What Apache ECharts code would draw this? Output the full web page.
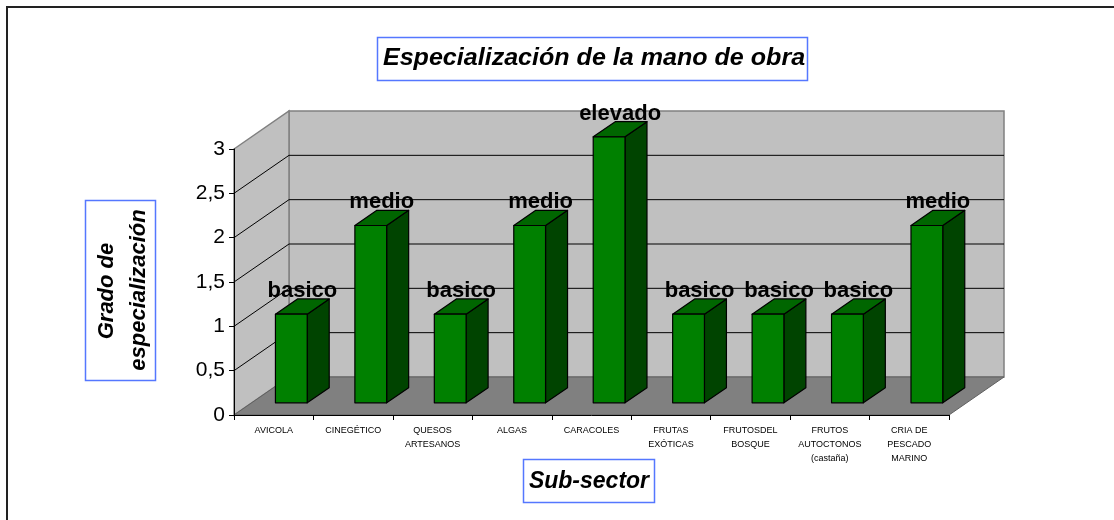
<!DOCTYPE html>
<html>
<head>
<meta charset="utf-8">
<script src="https://cdn.jsdelivr.net/npm/echarts@6/dist/echarts.min.js"></script>
<style>
  html, body { margin: 0; padding: 0; background: #ffffff; }
  #chart { width: 1114px; height: 520px; }
</style>
</head>
<body>
<div id="chart"></div>
<script>
// ---- Data ----
const categories = [
  'AVICOLA',
  'CINEGÉTICO',
  'QUESOS\nARTESANOS',
  'ALGAS',
  'CARACOLES',
  'FRUTAS\nEXÓTICAS',
  'FRUTOSDEL\nBOSQUE',
  'FRUTOS\nAUTOCTONOS\n(castaña)',
  'CRIA DE\nPESCADO\nMARINO'
];
const values = [1, 2, 1, 2, 3, 1, 1, 1, 2];
const levelNames = ['basico', 'medio', 'basico', 'medio', 'elevado', 'basico', 'basico', 'basico', 'medio'];
const yTicks = [0, 0.5, 1, 1.5, 2, 2.5, 3];
const titleText = 'Especialización de la mano de obra';
const yTitleLines = ['Grado de', 'especialización'];
const xTitleText = 'Sub-sector';

// ---- Layout / style constants ----
const FONT = "'Liberation Sans', Arial, sans-serif";
const DX = 55, DY = -38;          // depth vector of the 3D box
const BAR_FRONT = 0.32, BAR_BACK = 0.72, BAR_W = 0.4;
const C_FRONT = '#008000', C_TOP = '#006600', C_SIDE = '#004400';

const chart = echarts.init(document.getElementById('chart'), null, { renderer: 'canvas' });

function wallsRender(params, api) {
  const cs = params.coordSys;
  const x0 = cs.x, x1 = cs.x + cs.width, yt = cs.y, yb = cs.y + cs.height;
  const children = [];
  // back wall
  children.push({ type: 'polygon', shape: { points: [[x0 + DX, yt + DY], [x1 + DX, yt + DY], [x1 + DX, yb + DY], [x0 + DX, yb + DY]] },
    style: { fill: '#c0c0c0', stroke: '#808080', lineWidth: 1.5 } });
  // left wall
  children.push({ type: 'polygon', shape: { points: [[x0, yt], [x0 + DX, yt + DY], [x0 + DX, yb + DY], [x0, yb]] },
    style: { fill: '#c0c0c0', stroke: '#808080', lineWidth: 1.5 } });
  // floor
  children.push({ type: 'polygon', shape: { points: [[x0, yb], [x1, yb], [x1 + DX, yb + DY], [x0 + DX, yb + DY]] },
    style: { fill: '#808080', stroke: '#606060', lineWidth: 1 } });
  // gridlines
  yTicks.forEach(function (v) {
    if (v <= yTicks[0] || v >= yTicks[yTicks.length - 1]) return;
    const y = api.coord([0, v])[1];
    children.push({ type: 'line', shape: { x1: x0 + DX, y1: y + DY, x2: x1 + DX, y2: y + DY }, style: { stroke: '#000', lineWidth: 1 } });
    children.push({ type: 'line', shape: { x1: x0, y1: y, x2: x0 + DX, y2: y + DY }, style: { stroke: '#000', lineWidth: 1 } });
  });
  return { type: 'group', children: children };
}

function barRender(params, api) {
  const idx = api.value(0), v = api.value(1);
  const c0 = api.coord([idx, 0]);
  const c1 = api.coord([idx, v]);
  const band = api.size([1, 0])[0];
  const hw = band * BAR_W / 2;
  const xl = c0[0] - hw, xr = c0[0] + hw, y0 = c0[1], y1 = c1[1];
  const P = function (x, y, d) { return [x + DX * d, y + DY * d]; };
  const f = BAR_FRONT, b = BAR_BACK;
  const stroke = { stroke: '#000', lineWidth: 1.2, lineJoin: 'round' };
  return {
    type: 'group',
    children: [
      { type: 'polygon', shape: { points: [P(xr, y0, f), P(xr, y0, b), P(xr, y1, b), P(xr, y1, f)] },
        style: Object.assign({ fill: C_SIDE }, stroke) },
      { type: 'polygon', shape: { points: [P(xl, y1, f), P(xr, y1, f), P(xr, y1, b), P(xl, y1, b)] },
        style: Object.assign({ fill: C_TOP }, stroke) },
      { type: 'polygon', shape: { points: [P(xl, y0, f), P(xr, y0, f), P(xr, y1, f), P(xl, y1, f)] },
        style: Object.assign({ fill: C_FRONT }, stroke) },
      { type: 'text', x: c0[0] + DX * (f + b) / 2, y: y1 + DY * b + 3,
        style: { text: levelNames[idx], fill: '#000', font: 'bold 22px ' + FONT, align: 'center', verticalAlign: 'bottom' } }
    ]
  };
}

const option = {
  backgroundColor: '#ffffff',
  animation: false,
  grid: { left: 234, top: 149, width: 715, height: 266, containLabel: false },
  xAxis: {
    type: 'category',
    data: categories,
    z: 10,
    axisLine: { show: true, lineStyle: { color: '#000', width: 1 } },
    axisTick: { show: true, length: 5, lineStyle: { color: '#000' } },
    axisLabel: { interval: 0, fontSize: 9, lineHeight: 14, color: '#000', fontFamily: FONT, margin: 9 },
    splitLine: { show: false }
  },
  yAxis: {
    type: 'value',
    min: 0, max: 3, interval: 0.5,
    z: 10,
    axisLine: { show: true, lineStyle: { color: '#000', width: 1 } },
    axisTick: { show: true, length: 5, lineStyle: { color: '#000' } },
    axisLabel: { fontSize: 21, color: '#000', fontFamily: FONT, margin: 9,
      formatter: function (v) { return String(v).replace('.', ','); } },
    splitLine: { show: false }
  },
  series: [
    { type: 'custom', name: 'walls', z: 1, renderItem: wallsRender, data: [[0, 0]], encode: { x: 0, y: 1 }, silent: true },
    { type: 'custom', name: 'Grado', z: 3, renderItem: barRender,
      data: values.map(function (v, i) { return [i, v]; }), encode: { x: 0, y: 1 } }
  ],
  graphic: [
    { type: 'rect', z: 100, shape: { x: 7, y: 7, width: 1300, height: 700 }, style: { fill: 'none', stroke: '#222', lineWidth: 2 } },
    { type: 'rect', z: 100, shape: { x: 377.5, y: 37.5, width: 430, height: 43 }, style: { fill: '#fff', stroke: '#5577ff', lineWidth: 1.5 } },
    { type: 'text', z: 101, x: 594, y: 59, scaleX: 1.09, style: { text: titleText, font: 'italic bold 23px ' + FONT, fill: '#000', align: 'center', verticalAlign: 'middle' } },
    { type: 'rect', z: 100, shape: { x: 85.5, y: 200.5, width: 70, height: 180 }, style: { fill: '#fff', stroke: '#5577ff', lineWidth: 1.5 } },
    { type: 'text', z: 101, x: 107, y: 291, rotation: Math.PI / 2, style: { text: yTitleLines[0], font: 'italic bold 22px ' + FONT, fill: '#000', align: 'center', verticalAlign: 'middle' } },
    { type: 'text', z: 101, x: 139, y: 290, rotation: Math.PI / 2, style: { text: yTitleLines[1], font: 'italic bold 22px ' + FONT, fill: '#000', align: 'center', verticalAlign: 'middle' } },
    { type: 'rect', z: 100, shape: { x: 523.5, y: 459.5, width: 131, height: 43 }, style: { fill: '#fff', stroke: '#5577ff', lineWidth: 1.5 } },
    { type: 'text', z: 101, x: 589, y: 482, style: { text: xTitleText, font: 'italic bold 23px ' + FONT, fill: '#000', align: 'center', verticalAlign: 'middle' } }
  ]
};
chart.setOption(option);
</script>
</body>
</html>
